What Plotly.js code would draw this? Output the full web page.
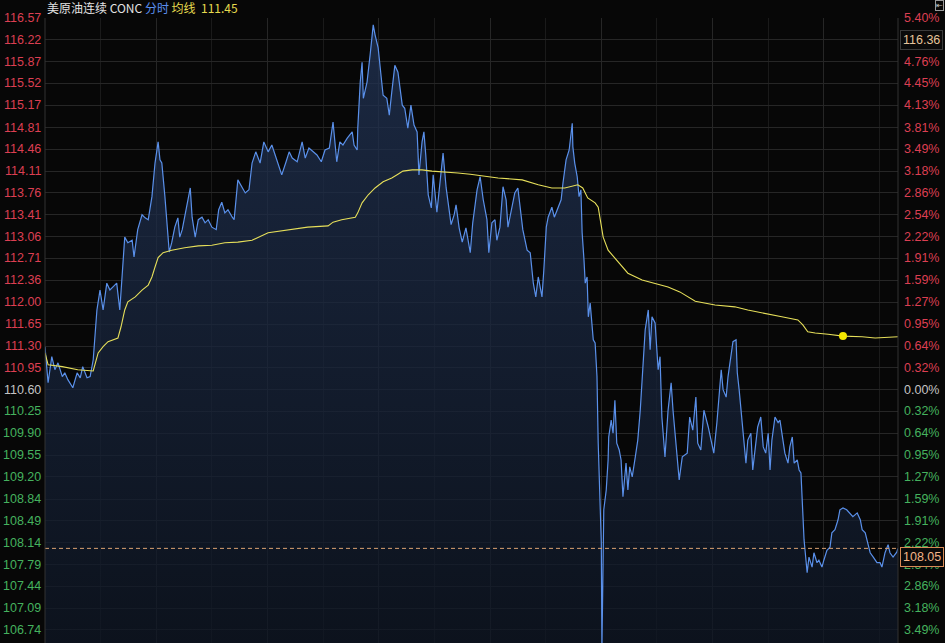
<!DOCTYPE html>
<html><head><meta charset="utf-8">
<script src="https://cdn.plot.ly/plotly-3.0.1.min.js"></script>
<style>html,body{margin:0;padding:0;background:#070707;}#chart{width:945px;height:643px;}</style>
</head><body><div id="chart"></div>
<script>
// minutes since session open (23h session = 1380 min)
const minutes = [
0,5,11,16,21,28,32,37,45,52,57,61,68,73,78,81,84,89,94,100,105,110,116,121,125,129,134,141,144,150,157,162,167,173,178,183,186,189,194,197,201,205,210,215,218,222,226,231,235,238,243,248,254,259,264,270,277,281,286,291,296,303,306,312,319,324,330,335,341,348,
354,361,367,372,377,383,390,395,400,408,416,421,427,434,440,447,453,460,466,472,477,482,489,497,500,505,506,510,513,515,521,526,531,534,539,544,547,553,557,561,566,571,574,578,582,587,592,597,602,605,610,613,616,620,625,628,634,637,641,644,649,652,657,662,665,670,675,681,
688,692,699,704,709,715,718,723,728,731,736,741,746,749,756,760,765,769,773,780,785,790,794,798,804,807,811,814,820,824,830,835,838,843,848,853,854,857,861,864,867,869,872,874,877,879,882,885,887,890,893,895,898,900,901,903,904,908,911,912,916,919,922,925,929,932,935,940,943,946,950,955,959,963,966,971,976,979,982,987,992,995,998,1003,1008,1013,1016,1021,1024,
1026,1031,1039,1043,1048,1053,1056,1061,1066,1073,1079,1082,1087,1090,1094,1097,1102,1105,1110,1113,1118,1120,1123,1128,1131,1134,1137,1142,1145,1150,1153,1158,1162,1166,1170,1173,1176,1181,1186,1189,1192,1197,1202,1205,1209,1212,1217,1220,1223,1225,1228,1230,1233,1236,1241,1244,1249,1252,1257,1260,1265,1270,1273,1278,1283,1286,1291,1297,1302,1307,1314,1319,1322,1327,1331,1335,1340,1346,1351,1354,1359,1364,1367,1372,1378,1380
];
const prices = [
111.29,110.71,111.13,110.92,111.03,110.81,110.87,110.76,110.63,110.87,110.79,110.97,110.79,110.81,111.08,111.56,111.88,112.20,111.88,112.31,112.20,112.25,112.31,111.88,112.47,113.05,112.96,113.00,112.73,113.17,113.41,113.36,113.33,113.70,114.24,114.58,114.29,114.24,113.70,113.37,112.81,112.96,113.21,113.36,113.05,113.17,113.37,113.60,113.84,113.37,113.05,113.33,113.37,113.28,113.33,113.21,113.17,113.49,113.61,113.44,113.49,113.37,113.33,113.97,113.84,113.76,113.81,114.24,114.42,114.24,
114.58,114.42,114.53,114.37,114.21,114.05,114.26,114.42,114.32,114.26,114.58,114.32,114.48,114.42,114.37,114.26,114.45,114.48,114.90,114.26,114.58,114.53,114.64,114.74,114.53,114.45,114.80,115.54,115.86,115.28,115.54,115.98,116.46,116.30,116.09,115.61,115.33,115.28,115.01,115.38,115.81,115.70,115.49,115.17,115.12,114.80,115.17,114.85,114.74,114.05,114.58,114.74,114.37,113.73,113.52,114.05,113.45,113.73,114.05,114.40,113.84,113.61,113.25,113.41,113.57,113.20,112.97,113.20,
112.80,113.28,113.81,114.02,113.65,113.33,112.80,113.28,113.33,113.00,113.21,113.86,113.65,113.21,113.60,113.76,113.84,113.49,113.17,112.84,112.80,112.31,112.09,112.41,112.09,112.52,113.21,113.37,113.53,113.37,113.53,113.65,113.92,114.29,114.45,114.88,114.50,114.24,114.02,113.70,113.81,113.12,112.68,112.31,112.41,111.77,111.99,111.67,111.40,111.35,110.81,109.74,108.94,108.14,106.42,108.14,108.67,108.99,109.47,109.84,110.11,109.90,110.43,109.74,109.63,109.47,108.88,109.42,108.99,109.36,109.20,109.52,109.79,110.27,110.71,111.56,111.88,111.24,111.77,111.67,110.92,111.13,110.16,109.52,110.27,110.71,110.27,109.74,109.42,
109.15,109.52,109.58,110.16,109.95,110.48,109.74,109.63,110.27,110.00,109.74,109.58,110.07,110.48,110.92,110.60,110.48,110.81,111.13,111.37,111.40,110.87,110.60,110.11,109.79,109.42,109.79,109.90,109.31,109.79,110.00,110.16,109.68,109.58,109.90,109.31,109.79,110.16,110.07,110.11,109.90,109.58,109.42,109.68,109.84,109.42,109.47,109.31,109.26,108.72,108.19,107.98,107.66,107.91,107.75,107.98,107.82,107.86,107.75,107.86,108.02,108.07,108.30,108.35,108.51,108.67,108.70,108.67,108.62,108.56,108.62,108.51,108.35,108.30,108.14,107.98,107.91,107.82,107.82,107.75,107.98,108.11,107.98,107.91,107.99,108.05
];
const avgMinutes = [0,5,28,53,78,86,94,102,118,123,129,134,146,157,167,173,178,183,191,205,226,248,270,291,312,335,361,393,425,458,466,480,502,506,513,523,534,547,561,571,579,594,610,626,647,668,688,707,733,772,798,820,841,862,870,878,890,895,898,903,911,927,943,966,987,1008,1027,1052,1084,1116,1137,1160,1192,1218,1226,1234,1246,1267,1291,1322,1343,1380];
const avgPrices = [111.19,111.00,110.97,110.92,110.90,111.19,111.29,111.37,111.43,111.61,111.88,112.01,112.09,112.20,112.28,112.41,112.57,112.72,112.80,112.84,112.88,112.91,112.92,112.96,112.97,113.00,113.12,113.17,113.21,113.23,113.29,113.33,113.37,113.44,113.60,113.73,113.84,113.94,114.00,114.06,114.11,114.13,114.13,114.11,114.10,114.08,114.06,114.03,114.00,113.97,113.89,113.84,113.84,113.89,113.84,113.68,113.60,113.53,113.37,113.05,112.84,112.65,112.47,112.36,112.31,112.25,112.17,112.02,111.96,111.93,111.88,111.83,111.77,111.72,111.64,111.53,111.51,111.49,111.46,111.45,111.43,111.45];
const priceTicks = [116.57,116.22,115.87,115.52,115.17,114.81,114.46,114.11,113.76,113.41,113.06,112.71,112.36,112.00,111.65,111.30,110.95,110.60,110.25,109.90,109.55,109.20,108.84,108.49,108.14,107.79,107.44,107.09,106.74];
const pctLabels = ["5.40%","","4.76%","4.45%","4.13%","3.81%","3.49%","3.18%","2.86%","2.54%","2.22%","1.91%","1.59%","1.27%","0.95%","0.64%","0.32%","0.00%","0.32%","0.64%","0.95%","1.27%","1.59%","1.91%","2.22%","2.54%","2.86%","3.18%","3.49%"];
const basePrice = 110.60;
const lastPrice = 108.05;
const highLabel = "116.36";
const avgLast = "111.45";
const markerMinute = [1291];
const markerAvg = [111.46];

const RED = '#dc3f52', GREEN = '#45b25e', GRAY = '#c4c4c4';
const colorFor = p => p > basePrice + 1e-9 ? RED : (p < basePrice - 1e-9 ? GREEN : GRAY);
const numFont = 'Liberation Sans, Arial, sans-serif';

const annotations = [];
priceTicks.forEach((p, i) => {
  annotations.push({xref:'paper', yref:'y', x:0, y:p, xanchor:'right', yanchor:'middle', xshift:-2,
    text:p.toFixed(2), showarrow:false, font:{family:numFont, size:12.5, color:colorFor(p)}});
  if (pctLabels[i]) annotations.push({xref:'paper', yref:'y', x:1, y:p, xanchor:'left', yanchor:'middle', xshift:4,
    text:pctLabels[i], showarrow:false, font:{family:numFont, size:12.5, color:colorFor(p)}});
});
// title
annotations.push({xref:'paper', yref:'paper', x:0, y:1, xanchor:'left', yanchor:'bottom', xshift:0, yshift:0,
  showarrow:false, font:{family:'Noto Sans CJK SC, sans-serif', size:12, color:'#e2e2e2'},
  text:'美原油连续 CONC <span style="color:#5b8ff0">分时</span> <span style="color:#e6da4e">均线</span>  <span style="color:#e6da4e">' + avgLast + '</span>'});
// last price box
annotations.push({xref:'paper', yref:'y', x:1, y:lastPrice, xanchor:'left', yanchor:'top', xshift:2, yshift:1,
  text:lastPrice.toFixed(2), showarrow:false, bgcolor:'#0a0a0a', bordercolor:'#d98a55', borderwidth:1, borderpad:2,
  font:{family:numFont, size:12.5, color:'#f2b487'}});
// high label box
annotations.push({xref:'paper', yref:'y', x:1, y:priceTicks[1], xanchor:'left', yanchor:'middle', xshift:2,
  text:highLabel, showarrow:false, bgcolor:'#0a0a0a', bordercolor:'#3a3a3a', borderwidth:1, borderpad:2,
  font:{family:numFont, size:12.5, color:'#e6c49a'}});
// small icon top-right
annotations.push({xref:'paper', yref:'paper', x:1, y:1, xanchor:'right', yanchor:'bottom', xshift:46, yshift:7,
  text:'⇤', showarrow:false, bordercolor:'#9a9a9a', borderwidth:1, borderpad:0, font:{family:'DejaVu Sans', size:8, color:'#bdbdbd'}});

const traces = [
  {x:minutes, y:prices, type:'scatter', mode:'lines', line:{color:'#5a90ea', width:1.2},
   fill:'tozeroy', fillgradient:{type:'vertical', start:106.53, stop:116.57,
     colorscale:[[0,'rgba(14,22,36,0.75)'],[1,'rgba(34,52,86,0.75)']]}, hoverinfo:'skip'},
  {x:avgMinutes, y:avgPrices, type:'scatter', mode:'lines', line:{color:'#e6df5a', width:1.1}, hoverinfo:'skip'},
  {x:markerMinute, y:markerAvg, type:'scatter', mode:'markers', marker:{color:'#f5e800', size:8}, hoverinfo:'skip'}
];

const layout = {
  width:945, height:643, margin:{l:45, r:47, t:18, b:0},
  paper_bgcolor:'#070707', plot_bgcolor:'#070707', showlegend:false,
  xaxis:{range:[0,1380], tick0:0, dtick:180, showticklabels:false, ticks:'', showgrid:true, gridcolor:'#262626', gridwidth:1,
    minor:{tick0:0, dtick:90, showgrid:true, gridcolor:'#1a1a1a'}, zeroline:false, showline:false, fixedrange:true},
  yaxis:{range:[106.53,116.57], tickmode:'array', tickvals:priceTicks, showticklabels:false, ticks:'', showgrid:true,
    gridcolor:'#262626', gridwidth:1, zeroline:false, showline:false, fixedrange:true},
  shapes:[
    {type:'line', xref:'paper', yref:'y', x0:0, x1:1, y0:lastPrice, y1:lastPrice, line:{color:'#d9a070', width:1, dash:'4px,3px'}},
    {type:'line', xref:'paper', yref:'paper', x0:0, x1:0, y0:0, y1:1, line:{color:'#333333', width:1}},
    {type:'line', xref:'paper', yref:'paper', x0:1, x1:1, y0:0, y1:1, line:{color:'#333333', width:1}}
  ],
  annotations:annotations
};
Plotly.newPlot('chart', traces, layout, {staticPlot:true, displayModeBar:false});
</script></body></html>
